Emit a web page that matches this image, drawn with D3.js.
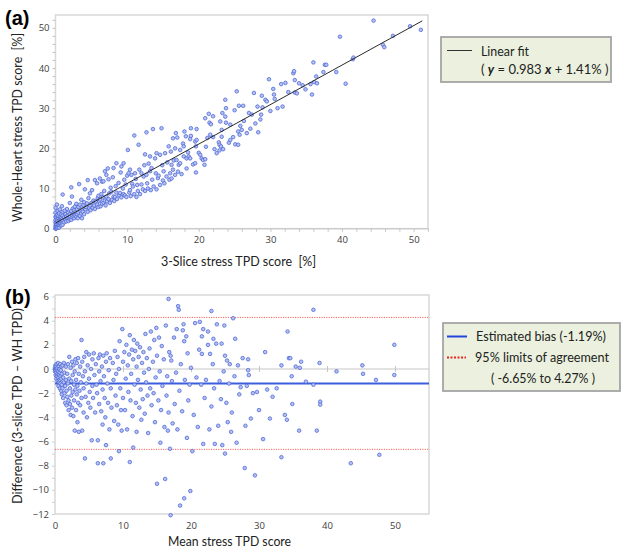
<!DOCTYPE html>
<html><head><meta charset="utf-8">
<script src="https://cdn.jsdelivr.net/npm/d3@7"></script>
<style>
body{margin:0;background:#fff;}
svg{display:block;}
text{font-family:Lato,"Open Sans",sans-serif;white-space:pre;}
</style></head><body>
<svg id="c" width="629" height="553"></svg>
<script>
// ---------- DATA ----------
const fitSlope = 0.983, fitIntercept = 1.41;
const biasValue = -1.19, loaLow = -6.65, loaHigh = 4.27;
const ticksA_x = [0,10,20,30,40,50];
const ticksA_y = [0,10,20,30,40,50];
const ticksB_x = [0,10,20,30,40,50];
const ticksB_y = [-12,-10,-8,-6,-4,-2,0,2,4,6];
const legendA = ["Linear fit"];
const legendB = ["Estimated bias (-1.19%)","95% limits of agreement","( -6.65% to 4.27% )"];
// (a) 3-slice stress TPD vs whole-heart stress TPD
const pointsA = [
[0,0],[0,0.3],[0,0.8],[0,1.5],[0,2.2],[0,3.0],[0,4.0],[0,5.2],[0.1,0.1],[0.1,0.6],[0.1,1.2],[0.1,2.8],[0.2,0.4],[0.2,1.6],[0.2,2.4],[0.2,3.4],[0.2,6.0],[0.3,0.2],[0.3,1.0],[0.3,1.9],[0.3,4.4],[0.4,0.7],[0.4,1.4],[0.4,2.6],[0.4,3.2],[0.5,0.3],[0.5,1.1],[0.5,2.0],[0.5,3.8],[0.6,0.9],[0.6,1.6],[0.6,2.4],[0.6,4.8],[0.7,1.3],[0.7,2.1],[0.7,3.0],[0.8,0.8],[0.8,1.8],[0.8,2.7],[0.8,3.6],[0.9,1.4],[0.9,2.3],[0.9,5.6],[1.0,1.0],[1.0,2.0],[1.0,3.2],[1.0,4.2],[1.0,8.5],
[1.2,1.6],[1.2,2.8],[1.3,4.5],[1.4,2.2],[1.4,3.6],[1.5,1.8],[1.5,2.9],[1.6,4.9],[1.7,2.5],[1.7,3.3],[1.8,1.9],[1.8,4.0],[1.9,2.8],[2.0,2.4],[2.0,3.6],[2.0,6.4],[2.1,3.0],[2.2,2.2],[2.2,4.4],[2.2,10.3],[2.3,3.4],[2.3,8.0],[2.4,2.8],[2.4,5.0],[2.5,3.8],[2.6,2.6],[2.6,4.6],[2.7,3.2],[2.7,5.5],[2.8,4.2],[2.9,3.0],[2.9,6.2],[3.0,3.6],[3.0,4.8],
[3.1,2.6],[3.2,4.0],[3.2,5.4],[3.3,11.1],[3.4,3.2],[3.4,6.0],[3.5,4.4],[3.6,3.8],[3.6,7.2],[3.7,2.6],[3.7,5.0],[3.8,4.2],[3.9,5.9],[4.0,3.6],[4.0,6.6],[4.1,9.8],[4.2,4.8],[4.3,5.4],[4.4,6.3],[4.5,12.1],[4.5,4.2],[4.6,7.6],[4.7,5.2],[4.8,5.8],[4.8,8.8],[4.9,4.6],[5.0,6.4],[5.1,9.6],[5.2,5.2],[5.3,7.0],[5.4,5.8],[5.5,12.1],[5.5,4.9],[5.6,6.8],[5.8,11.3],[5.8,6.0],[5.9,7.6],[6.0,5.4],[6.0,8.2],
[6.1,6.9],[6.2,12.5],[6.2,7.3],[6.3,5.6],[6.4,8.6],[6.5,11.7],[6.5,6.2],[6.6,7.8],[6.7,6.5],[6.7,11.8],[6.8,9.4],[6.9,14.3],[6.9,7.0],[7.0,5.8],[7.1,13.4],[7.1,8.0],[7.2,6.8],[7.3,15.0],[7.4,12.3],[7.4,7.4],[7.5,8.8],[7.6,6.4],[7.7,10.2],[7.8,9.2],[7.9,7.2],[8.0,12.8],[8.1,15.1],[8.1,8.0],[8.2,6.9],[8.3,7.9],[8.4,10.6],[8.5,16.3],[8.5,9.0],[8.6,7.4],[8.8,11.4],[8.9,8.3],[9.0,8.9],[9.1,14.0],[9.2,15.5],[9.2,7.8],[9.4,10.0],[9.5,16.3],[9.5,8.6],[9.6,12.2],[9.7,8.3],[9.8,11.0],[9.9,7.9],[10.0,13.2],
[10.1,19.6],[10.2,13.8],[10.3,9.0],[10.4,14.7],[10.4,9.6],[10.5,8.1],[10.6,13.4],[10.7,11.2],[10.8,10.5],[11.0,23.2],[11.0,8.6],[11.1,13.8],[11.2,12.4],[11.3,7.9],[11.4,10.9],[11.5,9.4],[11.6,20.9],[11.7,14.7],[11.8,8.6],[12.0,13.8],[12.0,11.0],[12.2,9.8],[12.3,13.0],[12.4,15.8],[12.5,18.5],[12.5,9.4],[12.7,24.0],[12.7,13.4],[12.8,11.3],[12.9,10.0],[13.0,16.2],[13.2,18.0],[13.2,14.3],[13.3,9.6],[13.4,15.1],[13.5,12.2],[13.6,24.8],[13.7,10.5],[13.9,17.5],[14.0,13.8],[14.1,18.8],[14.1,9.8],[14.3,12.6],[14.4,13.2],[14.6,18.4],[14.6,10.9],[14.8,25.0],[14.9,15.8],[15.0,12.0],[15.1,14.3],
[15.2,11.3],[15.3,18.8],[15.5,13.0],[15.6,16.5],[15.8,20.5],[15.9,12.2],[16.0,13.8],[16.1,19.2],[16.2,15.9],[16.2,12.5],[16.4,14.7],[16.4,22.5],[16.5,17.0],[16.7,20.0],[16.7,13.4],[16.8,23.8],[16.9,17.1],[17.0,22.7],[17.1,14.2],[17.2,15.9],[17.4,19.6],[17.4,16.3],[17.6,13.6],[17.8,21.2],[17.9,18.0],[17.9,20.5],[18.0,24.2],[18.2,23.0],[18.3,17.5],[18.3,15.0],[18.5,19.0],[18.6,18.0],[18.8,22.3],[18.8,17.5],[18.9,25.0],[18.9,23.1],[19.2,16.0],[19.5,21.7],[19.5,16.3],[19.6,14.0],[19.6,20.5],[19.7,24.8],[19.7,22.1],[20.0,18.9],
[20.2,18.4],[20.4,17.5],[20.6,17.1],[20.8,15.9],[20.9,17.3],[20.9,27.5],[21.0,20.4],[21.2,22.6],[21.4,28.6],[21.5,26.4],[21.6,23.4],[21.7,26.0],[22.0,28.0],[22.0,22.8],[22.2,19.8],[22.5,18.8],[22.8,21.5],[22.9,20.9],[22.9,19.5],[23.0,26.7],[23.1,20.5],[23.2,22.9],[23.2,24.6],[23.3,28.8],[23.4,19.8],[23.7,32.1],[23.7,27.9],[23.8,30.0],[23.8,26.4],[24.2,21.4],[24.4,25.9],[24.4,22.1],[24.8,22.8],[25.0,29.5],[25.1,21.0],
[25.3,34.2],[25.5,20.9],[25.5,24.2],[25.6,30.6],[25.7,23.4],[25.8,25.6],[26.0,24.6],[26.2,30.6],[26.3,26.8],[26.7,23.8],[27.0,28.8],[27.2,24.9],[27.4,28.4],[27.7,33.8],[27.9,26.2],[28.2,30.4],[28.3,24.0],[28.6,27.2],[28.7,28.4],[28.8,33.1],[28.9,30.2],[29.3,32.1],[29.5,31.7],[29.8,37.2],[30.0,29.3],
[30.4,34.8],[30.5,33.4],[30.6,32.3],[31.0,30.0],[31.5,36.0],[31.7,30.4],[32.1,36.3],[32.5,34.0],[33.2,38.7],[33.3,39.2],[33.4,33.9],[33.4,37.0],[33.7,33.7],[34.0,36.2],[34.5,35.7],[34.9,34.7],[35.6,36.0],[35.8,33.4],[36.0,41.4],[36.1,36.5],[36.4,37.9],[36.5,36.2],[37.4,39.0],[37.6,40.8],[37.8,40.8],[39.2,39.0],[39.7,47.8],
[40.5,36.1],[41.5,42.2],[41.6,42.6],[44.4,51.8],[45.7,45.8],[45.9,45.2],[47.1,48.0],[49.5,50.4],[51.0,49.5]
];
// (b) Bland-Altman: mean stress TPD vs difference (3-slice - WH)
const pointsB = [
[0,0],[0,0.1],[0,-0.2],[0.05,0.3],[0.1,-0.1],[0.1,-0.5],[0.15,0.2],[0.2,0],[0.2,-0.3],[0.2,-0.8],[0.25,0.4],[0.3,-0.1],[0.3,-0.6],[0.35,0.1],[0.4,-0.4],[0.4,-1.0],[0.45,0.5],[0.5,-0.2],[0.5,-0.7],[0.5,-1.4],[0.55,0.2],[0.6,-0.5],[0.6,-1.1],[0.65,0.0],[0.7,-0.3],[0.7,-0.9],[0.7,-1.6],[0.75,0.4],[0.8,-0.6],[0.8,-1.2],[0.85,-0.1],[0.9,-0.8],[0.9,-1.8],[0.95,0.2],[1.0,-0.4],[1.0,-1.3],[1.0,-2.1],
[1.1,0.3],[1.1,-1.6],[1.2,-0.7],[1.2,-2.4],[1.3,0.5],[1.3,-1.1],[1.4,-0.3],[1.4,-2.0],[1.5,-1.4],[1.5,-2.8],[1.6,0.2],[1.6,-0.9],[1.7,-1.8],[1.7,-3.0],[1.8,-0.4],[1.8,-2.3],[1.9,0.4],[1.9,-1.2],[2.0,-2.6],[2.0,-3.4],[2.1,-0.8],[2.1,1.0],[2.2,-1.6],[2.2,-2.9],[2.3,0.1],[2.3,-3.8],[2.4,-1.0],[2.4,-2.2],[2.5,0.6],[2.5,-3.2],[2.6,-0.5],[2.6,-1.9],[2.7,-3.9],[2.7,0.3],[2.8,-1.3],[2.8,-2.6],[2.9,-0.2],[2.9,-5.1],[3.0,-1.7],[3.0,0.8],
[3.1,-0.9],[3.1,-3.4],[3.2,0.5],[3.2,-2.1],[3.3,-1.4],[3.3,-4.4],[3.4,0.9],[3.4,-2.8],[3.5,-0.4],[3.5,-5.2],[3.6,-1.8],[3.7,0.2],[3.7,-3.0],[3.8,-1.1],[3.9,2.4],[3.9,-2.4],[4.0,0.6],[4.0,-5.1],[4.1,-0.6],[4.2,-1.6],[4.2,-3.6],[4.3,1.0],[4.4,-7.4],[4.4,-0.2],[4.5,-2.3],[4.6,1.4],[4.6,-1.2],[4.7,-4.0],[4.8,0.3],[4.9,-2.8],[5.0,-0.8],[5.0,1.2],[5.1,-1.9],[5.2,-3.2],[5.3,0.0],[5.4,-5.9],[5.5,0.8],[5.5,-1.4],[5.6,-2.4],[5.7,1.3],[5.8,-0.5],[5.9,-3.6],[6.0,0.4],
[6.1,-1.3],[6.2,-2.0],[6.3,-5.9],[6.3,-7.8],[6.4,0.9],[6.5,-0.2],[6.5,-2.9],[6.6,1.2],[6.7,-1.0],[6.8,-3.5],[6.9,0.2],[7.0,-1.7],[7.0,-4.6],[7.1,-7.8],[7.1,1.1],[7.2,-0.6],[7.3,-2.4],[7.4,-4.0],[7.5,-6.3],[7.5,0.6],[7.6,1.3],[7.7,-1.2],[7.8,-2.8],[7.9,-0.1],[8.0,-5.0],[8.1,0.9],[8.2,-7.4],[8.2,-1.6],[8.3,-3.2],[8.5,0.5],[8.6,-0.9],[8.7,-4.3],[8.8,1.5],[8.9,-2.2],[9.0,-0.4],[9.1,-3.0],[9.2,1.0],[9.3,-4.6],[9.4,-6.8],[9.4,0.0],[9.5,2.3],[9.6,-1.6],[9.7,-3.4],[9.8,-5.1],[9.9,3.3],[10.0,0.6],[10.0,-2.4],
[10.2,1.4],[10.3,-3.4],[10.4,-0.8],[10.5,2.0],[10.6,-5.0],[10.7,0.3],[10.8,-1.9],[10.9,1.2],[11.0,-7.7],[11.0,2.8],[11.1,-2.6],[11.2,-0.4],[11.3,1.6],[11.4,-3.9],[11.5,-6.5],[11.5,0.8],[11.6,2.4],[11.7,-1.3],[11.8,1.5],[11.9,-2.8],[12.0,-5.2],[12.0,0.2],[12.1,2.1],[12.2,-0.9],[12.3,1.0],[12.4,-3.2],[12.5,1.8],[12.6,-1.7],[12.7,-4.2],[12.8,0.5],[12.9,-2.5],[13.0,1.4],[13.1,-0.3],[13.2,-3.7],[13.3,2.9],[13.4,-1.1],[13.5,0.9],[13.6,-2.2],[13.7,-5.3],[13.8,0.0],[13.9,1.7],[14.0,-1.6],[14.1,3.1],[14.2,-3.0],[14.4,0.6],[14.5,-2.0],[14.6,2.4],[14.7,-4.4],[14.8,-0.7],[14.9,3.4],[15.0,-9.5],[15.0,1.1],
[15.2,-2.6],[15.3,2.6],[15.4,-0.2],[15.5,-6.1],[15.6,-3.4],[15.7,1.9],[15.8,-1.4],[16.0,0.8],[16.1,-4.8],[16.2,-9.1],[16.3,3.6],[16.4,-2.2],[16.5,-0.6],[16.6,-5.1],[16.7,5.8],[16.7,-3.6],[16.8,1.4],[16.9,-6.6],[17.0,-12.1],[17.0,1.1],[17.1,0.7],[17.2,-1.0],[17.3,-4.5],[17.5,2.6],[17.6,-2.9],[17.8,-0.3],[17.9,3.3],[18.0,-5.0],[18.1,5.2],[18.2,4.9],[18.3,-1.8],[18.4,-11.3],[18.5,0.4],[18.7,-3.5],[18.8,3.2],[18.9,3.7],[19.0,-10.7],[19.0,2.3],[19.1,-0.9],[19.3,2.7],[19.4,-5.7],[19.5,1.3],[19.6,-2.6],[19.8,-1.3],[19.9,-10.1],[20.0,0.1],
[20.2,-6.8],[20.4,-3.8],[20.6,3.8],[20.8,-0.7],[21.0,-4.8],[21.2,1.6],[21.3,3.9],[21.5,-1.3],[21.6,2.7],[21.6,1.25],[21.8,3.3],[21.8,-6.2],[22.0,-2.4],[22.2,-0.9],[22.5,3.1],[22.5,2.0],[22.7,-5.0],[22.8,1.25],[23.0,4.8],[23.0,-3.1],[23.2,0.4],[23.3,2.5],[23.4,-1.6],[23.5,-6.2],[23.7,2.1],[23.8,3.7],[24.0,-4.7],[24.2,-1.0],[24.4,-2.5],[24.5,2.1],[24.6,-6.3],[24.8,-0.2],[24.9,3.6],[25.0,1.1],[25.0,-7.0],
[25.2,-2.8],[25.3,0.7],[25.4,-4.4],[25.6,-1.2],[25.7,0.4],[25.9,-5.2],[26.0,-3.6],[26.2,4.2],[26.4,-0.6],[26.5,2.5],[26.7,-6.1],[26.9,0.3],[27.1,-2.1],[27.3,-1.5],[27.6,0.9],[27.9,-8.2],[28.0,-4.7],[28.2,-1.4],[28.4,0.8],[28.4,-0.1],[28.5,-0.5],[28.8,-4.1],[29.1,-2.0],[29.4,-8.8],[29.7,-1.9],[30.0,-3.4],
[30.6,-5.8],[30.9,1.4],[31.2,-1.7],[31.6,-4.1],[32.0,-2.3],[32.6,-1.6],[33.3,-7.3],[33.3,0.3],[33.8,-3.8],[34.1,-4.2],[34.2,3.1],[34.4,0.9],[34.6,0.9],[34.8,-0.6],[34.9,-2.9],[35.4,0.2],[35.9,-5.1],[36.0,0.1],[36.2,0.6],[36.9,-1.05],[38.0,4.9],[38.0,-1.3],[38.5,-5.1],[38.9,0.5],[39.0,-2.7],[39.0,-2.95],
[41.4,-0.2],[43.5,-7.8],[45.2,0.3],[45.3,-0.4],[47.2,-0.9],[47.7,-7.1],[49.9,2.0],[49.9,-0.5]
];

// ---------- DRAW ----------
const svg = d3.select("#c");
const dotFill = "#b4c1f2", dotStroke = "#4a63d6";
const frameCol = "#d8d8d8";

function styleAxis(g){
  g.select(".domain").remove();
  g.selectAll(".tick line").attr("stroke","#b8b8b8");
  g.selectAll(".tick text").attr("fill","#404040").style("font-size","9.5px").style("font-family","'Open Sans',sans-serif");
}
function fitText(sel, w){ return sel.attr("textLength",w).attr("lengthAdjust","spacingAndGlyphs"); }

// ===== Panel (a) =====
const xA = d3.scaleLinear().domain([0,52]).range([55.5,428]);
const yA = d3.scaleLinear().domain([0,53.2]).range([228.7,15]);
const gA = svg.append("g");
gA.append("rect").attr("x",xA(0)).attr("y",yA(53.2)).attr("width",xA(52)-xA(0)).attr("height",yA(0)-yA(53.2))
  .attr("fill","none").attr("stroke",frameCol).attr("stroke-width",1.5);
gA.append("g").attr("transform",`translate(${xA(0)},0)`).call(d3.axisLeft(yA).tickValues(d3.range(0,53,2)).tickSize(3).tickFormat(""))
  .call(g=>{g.select(".domain").remove();g.selectAll("line").attr("stroke","#c4c4c4");});
gA.append("g").attr("transform",`translate(0,${yA(0)})`).call(d3.axisBottom(xA).tickValues(d3.range(0,53,2)).tickSize(3).tickFormat(""))
  .call(g=>{g.select(".domain").remove();g.selectAll("line").attr("stroke","#c4c4c4");});
gA.append("g").attr("transform",`translate(${xA(0)-4},0)`).call(d3.axisLeft(yA).tickValues(ticksA_y).tickSize(0).tickPadding(2)).call(styleAxis);
gA.append("g").attr("transform",`translate(0,${yA(0)+5})`).call(d3.axisBottom(xA).tickValues(ticksA_x).tickSize(0).tickPadding(3)).call(styleAxis);
gA.append("line").attr("x1",xA(0)).attr("x2",xA(52)).attr("y1",yA(0)).attr("y2",yA(0)).attr("stroke","#c8c8c8");
gA.append("g").selectAll("circle").data(pointsA).join("circle")
  .attr("cx",d=>xA(d[0])).attr("cy",d=>yA(d[1])).attr("r",1.8)
  .attr("fill",dotFill).attr("stroke",dotStroke).attr("stroke-width",0.75);
const fitX = [0,51.2];
gA.append("line").attr("x1",xA(fitX[0])).attr("y1",yA(fitSlope*fitX[0]+fitIntercept))
  .attr("x2",xA(fitX[1])).attr("y2",yA(fitSlope*fitX[1]+fitIntercept)).attr("stroke","#2b2b2b").attr("stroke-width",1);
fitText(gA.append("text").attr("x",161).attr("y",266).style("font-size","14px").attr("fill","#222")
  .text("3-Slice stress TPD score  [%]"),155);
fitText(gA.append("text").attr("transform","translate(22,222) rotate(-90)").style("font-size","14px").attr("fill","#222")
  .text("Whole-Heart stress TPD score  [%]"),189);
svg.append("text").attr("x",5).attr("y",25).style("font-size","20px").style("font-weight","bold").style("font-family","Arial,'Liberation Sans',sans-serif").text("(a)");
// legend a
const lgA = svg.append("g");
lgA.append("rect").attr("x",441).attr("y",37).attr("width",170).attr("height",45).attr("fill","#ebf1de").attr("stroke","#a5a5a5").attr("stroke-width",1.8);
lgA.append("line").attr("x1",447).attr("x2",472).attr("y1",50.5).attr("y2",50.5).attr("stroke","#333").attr("stroke-width",1);
fitText(lgA.append("text").attr("x",481).attr("y",55.5).style("font-size","14px").attr("fill","#222").text(legendA[0]),48);
const eq = lgA.append("text").attr("x",481).attr("y",73.5).style("font-size","13px").attr("fill","#222");
eq.append("tspan").text("( ");
eq.append("tspan").style("font-weight","bold").style("font-style","italic").text("y");
eq.append("tspan").text(" = " + fitSlope + " ");
eq.append("tspan").style("font-weight","bold").style("font-style","italic").text("x");
eq.append("tspan").text(" + " + fitIntercept + "% )");

// ===== Panel (b) =====
const xB = d3.scaleLinear().domain([0,55]).range([55,429]);
const yB = d3.scaleLinear().domain([-12,6]).range([514,296.5]);
const gB = svg.append("g");
gB.append("rect").attr("x",xB(0)).attr("y",295).attr("width",xB(55)-xB(0)).attr("height",yB(-12)-295)
  .attr("fill","none").attr("stroke",frameCol).attr("stroke-width",1.5);
gB.append("g").attr("transform",`translate(${xB(0)},0)`).call(d3.axisLeft(yB).tickValues(d3.range(-12,7,1)).tickSize(3).tickFormat(""))
  .call(g=>{g.select(".domain").remove();g.selectAll("line").attr("stroke","#d0d0d0");});
gB.append("g").attr("transform",`translate(${xB(0)-4},0)`).call(d3.axisLeft(yB).tickValues(ticksB_y).tickSize(0).tickPadding(2)).call(styleAxis);
gB.append("g").attr("transform",`translate(0,${yB(-12)+5})`).call(d3.axisBottom(xB).tickValues(ticksB_x).tickSize(0).tickPadding(3)).call(styleAxis);
gB.append("line").attr("x1",xB(0)).attr("x2",xB(55)).attr("y1",yB(0)).attr("y2",yB(0)).attr("stroke","#c6c6c6").attr("stroke-width",1);
gB.append("g").attr("transform",`translate(0,${yB(0)-3})`).call(d3.axisBottom(xB).tickValues(ticksB_x.slice(1)).tickSize(6).tickFormat(""))
  .call(g=>{g.select(".domain").remove();g.selectAll("line").attr("stroke","#c6c6c6");});
[loaHigh, loaLow].forEach(v=>{
  gB.append("line").attr("x1",xB(0)).attr("x2",xB(55)).attr("y1",yB(v)).attr("y2",yB(v))
    .attr("stroke","#f0645a").attr("stroke-width",1).attr("stroke-dasharray","1.2,1.2");
});
gB.append("line").attr("x1",xB(0)).attr("x2",xB(55)).attr("y1",yB(biasValue)).attr("y2",yB(biasValue))
  .attr("stroke","#3b5fdc").attr("stroke-width",2);
gB.append("g").selectAll("circle").data(pointsB).join("circle")
  .attr("cx",d=>xB(d[0])).attr("cy",d=>yB(d[1])).attr("r",1.8)
  .attr("fill",dotFill).attr("stroke",dotStroke).attr("stroke-width",0.75);
fitText(gB.append("text").attr("x",168).attr("y",546).style("font-size","14px").attr("fill","#222")
  .text("Mean stress TPD score"),123);
fitText(gB.append("text").attr("transform","translate(22,504) rotate(-90)").style("font-size","14px").attr("fill","#222")
  .text("Difference (3-slice TPD \u2013 WH TPD)"),196);
svg.append("text").attr("x",5).attr("y",304).style("font-size","20px").style("font-weight","bold").style("font-family","Arial,'Liberation Sans',sans-serif").text("(b)");
// legend b
const lgB = svg.append("g");
lgB.append("rect").attr("x",443).attr("y",323).attr("width",177).attr("height",68).attr("fill","#ebf1de").attr("stroke","#a5a5a5").attr("stroke-width",1.8);
lgB.append("line").attr("x1",447).attr("x2",467).attr("y1",336.5).attr("y2",336.5).attr("stroke","#2244dd").attr("stroke-width",2);
lgB.append("line").attr("x1",447).attr("x2",466).attr("y1",357.5).attr("y2",357.5).attr("stroke","#ee2222").attr("stroke-width",2.2).attr("stroke-dasharray","2,1.5");
fitText(lgB.append("text").attr("x",476).attr("y",341).style("font-size","14px").attr("fill","#222").text(legendB[0]),130);
fitText(lgB.append("text").attr("x",475).attr("y",362).style("font-size","14px").attr("fill","#222").text(legendB[1]),134);
fitText(lgB.append("text").attr("x",491).attr("y",383).style("font-size","14px").attr("fill","#222").text(legendB[2]),104);
</script>
</body></html>
